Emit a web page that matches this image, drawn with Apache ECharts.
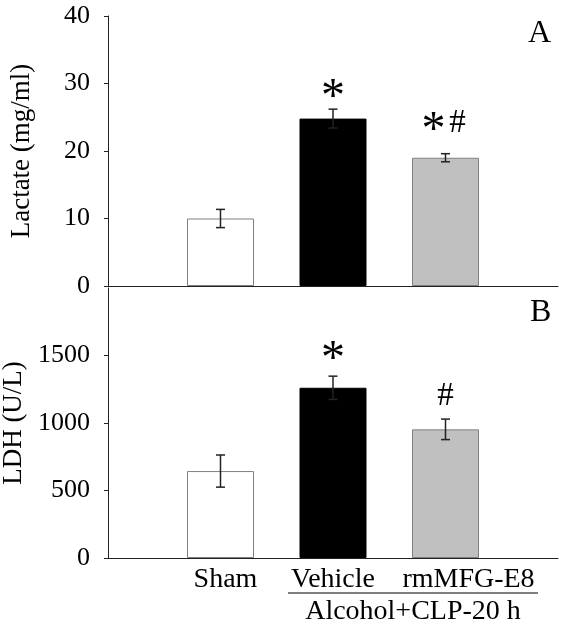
<!DOCTYPE html>
<html><head><meta charset="utf-8">
<script src="https://cdn.jsdelivr.net/npm/echarts@6/dist/echarts.min.js"></script>
<style>html,body{margin:0;padding:0;background:#fff}#c{width:567px;height:628px}</style>
</head><body><div id="c"></div>
<script>
// ---- data ----
var categories = ['', 'Sham', 'Vehicle', 'rmMFG-E8', ''];
var lactateMean = [null, 10.0, 24.8, 19.0, null];
var lactateSE   = [null, 1.35, 1.4, 0.6, null];
var ldhMean = [null, 644, 1261, 953, null];
var ldhSE   = [null, 119, 86, 76, null];
var lactateMarks = ['', '', '*', '*#', ''];
var lactateMarkY = [null, null, 29.0, 24.1, null];
var ldhMarks = ['', '', '*', '#', ''];
var ldhMarkY = [null, null, 1523, 1196, null];
var lactateTicks = [0, 10, 20, 30, 40];
var ldhTicks = [0, 500, 1000, 1500];

var FONT = '"Liberation Serif","Times New Roman",serif';
var fills = ['#fff', '#fff', '#000', '#c0c0c0', '#fff'];
var borders = ['#808080', '#808080', '#000', '#808080', '#808080'];

function barData(means) {
  return means.map(function (v, i) {
    return v == null ? '-' : { value: v, itemStyle: { color: fills[i], borderColor: borders[i], borderWidth: 1 } };
  });
}
function errData(means, se) {
  var out = [];
  means.forEach(function (v, i) { if (v != null) out.push([i, v, se[i]]); });
  return out;
}
function makeRender(marks, markY) {
  return function (params, api) {
    var i = api.value(0), m = api.value(1), s = api.value(2);
    var top = api.coord([i, m + s]);
    var bot = api.coord([i, m - s]);
    var half = 4.5;
    var st = { stroke: '#222', lineWidth: 1.5 };
    var children = [
      { type: 'line', shape: { x1: top[0], y1: top[1], x2: bot[0], y2: bot[1] }, style: st },
      { type: 'line', shape: { x1: top[0] - half, y1: top[1], x2: top[0] + half, y2: top[1] }, style: st },
      { type: 'line', shape: { x1: bot[0] - half, y1: bot[1], x2: bot[0] + half, y2: bot[1] }, style: st }
    ];
    var txt = marks[i];
    if (txt) {
      var p = api.coord([i, markY[i]]);
      var parts = txt.split('');
      var w = parts.length > 1 ? 12 : 0;
      parts.forEach(function (ch, k) {
        var x = p[0] + (parts.length > 1 ? (k === 0 ? -w : w) : 0);
        if (ch === '*') {
          children.push({ type: 'text', style: { text: '*', x: x, y: p[1] + 8, align: 'center', verticalAlign: 'middle', font: '48px ' + FONT, fill: '#000' } });
        } else {
          children.push({ type: 'text', style: { text: ch, x: x, y: p[1], align: 'center', verticalAlign: 'middle', font: '33px ' + FONT, fill: '#000' } });
        }
      });
    }
    return { type: 'group', children: children };
  };
}

var chart = echarts.init(document.getElementById('c'), null, { renderer: 'canvas' });
var axisLine = { lineStyle: { color: '#222', width: 1 } };
chart.setOption({
  animation: false,
  backgroundColor: '#fff',
  grid: [
    { left: 108, top: 16, width: 450, height: 270, outerBoundsMode: 'none', containLabel: false },
    { left: 108, top: 288, width: 450, height: 270, outerBoundsMode: 'none', containLabel: false }
  ],
  xAxis: [
    { gridIndex: 0, type: 'category', data: categories, boundaryGap: false, axisLine: axisLine, axisTick: { show: false }, axisLabel: { show: false } },
    { gridIndex: 1, type: 'category', data: categories, boundaryGap: false, axisLine: axisLine, axisTick: { show: false },
      axisLabel: { show: true, interval: 0, margin: 8, fontFamily: FONT, fontSize: 28, color: '#000',
        formatter: function (v) {
          if (v === 'rmMFG-E8') return '{r|' + v + '}';
          if (v === 'Sham') return '{s|' + v + '}';
          return v;
        },
        rich: {
          r: { fontFamily: FONT, fontSize: 28, color: '#000', padding: [0, 0, 0, 46] },
          s: { fontFamily: FONT, fontSize: 28, color: '#000', padding: [0, 0, 0, 10] }
        } } }
  ],
  yAxis: [
    { gridIndex: 0, type: 'value', min: 0, max: 40, interval: 10,
      name: 'Lactate (mg/ml)', nameLocation: 'middle', nameGap: 73,
      nameTextStyle: { fontFamily: FONT, fontSize: 27, color: '#000' },
      axisLine: { show: true, lineStyle: { color: '#222', width: 1 } },
      axisTick: { show: true, length: 4, lineStyle: { color: '#222' } },
      axisLabel: { margin: 18, fontFamily: FONT, fontSize: 26, color: '#000', formatter: function (v) { return String(v); } },
      splitLine: { show: false } },
    { gridIndex: 1, type: 'value', min: 0, max: 2000, interval: 500,
      name: 'LDH (U/L)', nameLocation: 'middle', nameGap: 73,
      nameTextStyle: { fontFamily: FONT, fontSize: 27, color: '#000' },
      axisLine: { show: true, lineStyle: { color: '#222', width: 1 } },
      axisTick: { show: true, length: 4, customValues: ldhTicks, lineStyle: { color: '#222' } },
      axisLabel: { margin: 18, fontFamily: FONT, fontSize: 26, color: '#000', customValues: ldhTicks, formatter: function (v) { return String(v); } },
      splitLine: { show: false } }
  ],
  series: [
    { type: 'bar', xAxisIndex: 0, yAxisIndex: 0, barWidth: 67, data: barData(lactateMean) },
    { type: 'custom', xAxisIndex: 0, yAxisIndex: 0, data: errData(lactateMean, lactateSE), renderItem: makeRender(lactateMarks, lactateMarkY), z: 5 },
    { type: 'bar', xAxisIndex: 1, yAxisIndex: 1, barWidth: 67, data: barData(ldhMean) },
    { type: 'custom', xAxisIndex: 1, yAxisIndex: 1, data: errData(ldhMean, ldhSE), renderItem: makeRender(ldhMarks, ldhMarkY), z: 5 }
  ],
  graphic: [
    { type: 'text', left: 528, top: 18, style: { text: 'A', font: '32px ' + FONT, fill: '#000' } },
    { type: 'text', left: 530, top: 297, style: { text: 'B', font: '32px ' + FONT, fill: '#000' } },
    { type: 'line', shape: { x1: 288, y1: 593, x2: 538, y2: 593 }, style: { stroke: '#000', lineWidth: 1.2 } },
    { type: 'text', x: 413, y: 612, style: { text: 'Alcohol+CLP-20 h', font: '28px ' + FONT, fill: '#000', align: 'center', verticalAlign: 'middle' } }
  ]
});
</script></body></html>
